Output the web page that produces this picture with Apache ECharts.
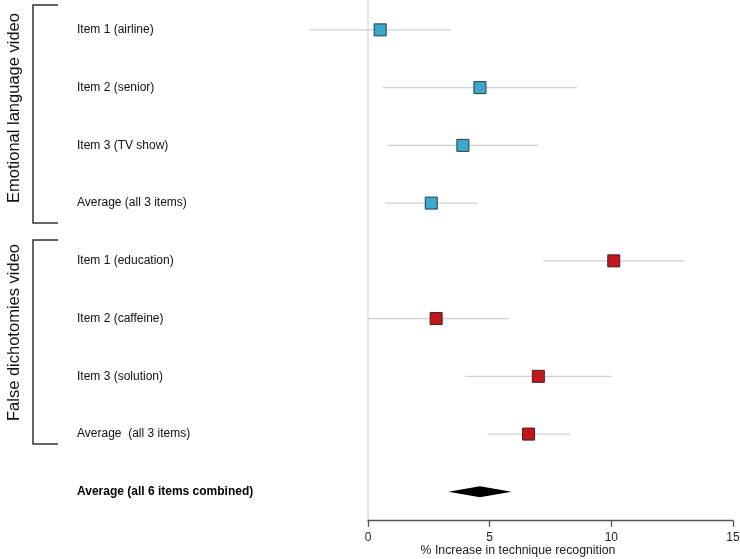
<!DOCTYPE html>
<html>
<head>
<meta charset="utf-8">
<script src="https://cdn.jsdelivr.net/npm/echarts@6/dist/echarts.min.js"></script>
<style>
html,body{margin:0;padding:0;background:#fff;}
#chart{width:740px;height:559px;}
</style>
</head>
<body>
<div id="chart"></div>
<script>
// ---- data ----
var categories = ['Item 1 (airline)', 'Item 2 (senior)', 'Item 3 (TV show)', 'Average (all 3 items)',
  'Item 1 (education)', 'Item 2 (caffeine)', 'Item 3 (solution)', 'Average  (all 3 items)',
  'Average (all 6 items combined)'];
var groupNames = ['Emotional language video', 'False dichotomies video'];
var estimates = [0.5, 4.6, 3.9, 2.6, 10.1, 2.8, 7.0, 6.6];
var lowerCI  = [-2.4, 0.6, 0.8, 0.7, 7.2, 0.0, 4.0, 4.9];
var upperCI  = [3.4, 8.6, 7.0, 4.5, 13.0, 5.8, 10.0, 8.3];
var groupOf  = [0, 0, 0, 0, 1, 1, 1, 1];
var overallEst = 4.6, overallLow = 3.3, overallHigh = 5.9;
var xTicks = [0, 5, 10, 15];
var groupColors = ['#3BA9CC', '#C4161C'];

// ---- build series data ----
var ciData = estimates.map(function (e, i) { return [lowerCI[i], upperCI[i], i]; });
var blueData = [], redData = [];
estimates.forEach(function (e, i) { (groupOf[i] === 0 ? blueData : redData).push([e, i]); });
var overallIdx = categories.length - 1;

var chart = echarts.init(document.getElementById('chart'), null, {renderer: 'canvas'});
var option = {
  animation: false,
  textStyle: {fontFamily: 'Liberation Sans, Arial, sans-serif'},
  grid: {left: 368, right: 7, top: 1, bottom: 38.3, containLabel: false, outerBoundsMode: 'none'},
  xAxis: {
    type: 'value', min: xTicks[0], max: xTicks[xTicks.length - 1], interval: 5,
    splitLine: {show: false},
    axisLine: {show: true, onZero: false, lineStyle: {color: '#555', width: 1.3}},
    axisTick: {show: true, length: 6, lineStyle: {color: '#555', width: 1.3}},
    axisLabel: {margin: 11, fontSize: 12, color: '#222', fontFamily: 'Liberation Sans Narrow, Liberation Sans, Arial'},
    name: '% Increase in technique recognition',
    nameLocation: 'middle', nameGap: 24, nameMoveOverlap: false,
    nameTextStyle: {fontSize: 12.3, color: '#222', padding: [0, 65, 0, 0]}
  },
  yAxis: {
    type: 'category', data: categories, inverse: true,
    axisLine: {show: true, lineStyle: {color: '#e6e6e6', width: 2}},
    axisTick: {show: false},
    splitLine: {show: false},
    axisLabel: {
      align: 'left', margin: 291, fontSize: 12, color: '#111',
      formatter: function (v, i) { return i === overallIdx ? '{b|' + v + '}' : v; },
      rich: {b: {fontWeight: 'bold', fontSize: 12, color: '#000'}}
    }
  },
  series: [
    {
      type: 'custom', clip: false, z: 1,
      data: ciData,
      encode: {x: [0, 1], y: 2},
      renderItem: function (params, api) {
        var p1 = api.coord([api.value(0), api.value(2)]);
        var p2 = api.coord([api.value(1), api.value(2)]);
        return {type: 'line', shape: {x1: p1[0], y1: p1[1], x2: p2[0], y2: p2[1]},
          style: {stroke: '#cfcfcf', lineWidth: 1.3}};
      }
    },
    {
      type: 'scatter', z: 3, symbol: 'rect', symbolSize: 12,
      data: blueData,
      itemStyle: {color: groupColors[0], borderColor: '#2a3a40', borderWidth: 1, opacity: 1}
    },
    {
      type: 'scatter', z: 3, symbol: 'rect', symbolSize: 12,
      data: redData,
      itemStyle: {color: groupColors[1], borderColor: '#3a2020', borderWidth: 1, opacity: 1}
    },
    {
      type: 'custom', clip: false, z: 3,
      data: [[overallLow, overallEst, overallHigh, overallIdx]],
      encode: {x: [0, 1, 2], y: 3},
      renderItem: function (params, api) {
        var l = api.coord([api.value(0), api.value(3)]);
        var c = api.coord([api.value(1), api.value(3)]);
        var r = api.coord([api.value(2), api.value(3)]);
        return {type: 'polygon',
          shape: {points: [[l[0], l[1]], [c[0], c[1] - 5.5], [r[0], r[1]], [c[0], c[1] + 5.5]]},
          style: {fill: '#000'}};
      }
    }
  ],
  graphic: [
    {type: 'polyline', shape: {points: [[58, 5], [33, 5], [33, 223], [58, 223]]},
      style: {stroke: '#333', lineWidth: 1.5, fill: null}},
    {type: 'polyline', shape: {points: [[58, 240], [33, 240], [33, 444], [58, 444]]},
      style: {stroke: '#333', lineWidth: 1.5, fill: null}},
    {type: 'text', x: 14, y: 108, rotation: Math.PI / 2,
      style: {text: groupNames[0], fontSize: 16.5, fill: '#111', textAlign: 'center', textVerticalAlign: 'middle',
        fontFamily: 'Liberation Sans, Arial, sans-serif'}},
    {type: 'text', x: 14, y: 332.5, rotation: Math.PI / 2,
      style: {text: groupNames[1], fontSize: 16.5, fill: '#111', textAlign: 'center', textVerticalAlign: 'middle',
        fontFamily: 'Liberation Sans, Arial, sans-serif'}}
  ]
};
chart.setOption(option);
</script>
</body>
</html>
